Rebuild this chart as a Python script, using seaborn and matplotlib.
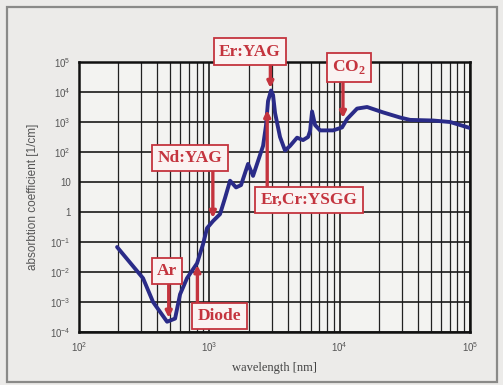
import numpy as np
import pandas as pd
import matplotlib
matplotlib.use('Agg')
import matplotlib.pyplot as plt
import matplotlib.ticker as mticker
from matplotlib.patches import Rectangle
import seaborn as sns

# ---------------------------------------------------------------
# data (wavelength in nm, absorption in 1/cm)
# ---------------------------------------------------------------
wavelength = [196, 310, 370, 474, 546, 596, 674, 805, 895, 960, 1068, 1208, 1320,
              1442, 1603, 1751, 1982, 2165, 2406, 2584, 2724, 2821, 2975, 3083,
              3193, 3487, 3810, 4163, 4710, 5237, 5721, 5928, 6140, 6476, 7072,
              8899, 10430, 11400, 13600, 16230, 21540, 29080, 34700, 52100,
              70360, 100000]
absorption = [0.068, 0.0062, 0.0010, 0.00022, 0.00028, 0.0018, 0.0062, 0.0195,
              0.085, 0.29, 0.50, 0.85, 2.95, 11, 6.6, 7.9, 40, 16, 63, 160, 790,
              5000, 11200, 7900, 2000, 316, 112, 160, 300, 250, 316, 500, 2240,
              790, 525, 525, 660, 1260, 2800, 3160, 2090, 1410, 1175, 1120, 1000,
              630]

# lasers: label, wavelength, arrow base / tip (absorption), label position
laser_names = ['Er:YAG', 'CO$_\\mathbf{2}$', 'Nd:YAG', 'Ar', 'Diode', 'Er,Cr:YSGG']
laser_nm = [2940, 10600, 1064, 488, 810, 2780]
arrow_base = [10**4.9, 10**4.33, 10**1.37, 10**-2.43, 10**-3.0, 10**0.83]
arrow_tip = [10**4.13, 10**3.13, 10**-0.2, 10**-3.53, 10**-1.77, 10**3.4]
label_x = [2051, 11800, 711, 473, 1197, 5820]
label_y = [10**5.35, 10**4.82, 10**1.8, 10**-1.97, 10**-3.47, 10**0.4]

y_ticks = [1e-4, 1e-3, 1e-2, 1e-1, 1, 10, 1e2, 1e3, 1e4, 1e5]
y_tick_labels = ['10$^{-4}$', '10$^{-3}$', '10$^{-2}$', '10$^{-1}$', '1', '10',
                 '10$^{2}$', '10$^{3}$', '10$^{4}$', '10$^{5}$']
x_ticks = [1e2, 1e3, 1e4, 1e5]
x_tick_labels = ['10$^{2}$', '10$^{3}$', '10$^{4}$', '10$^{5}$']

df = pd.DataFrame({'wavelength': wavelength, 'absorption': absorption})

# ---------------------------------------------------------------
# style
# ---------------------------------------------------------------
sns.set_style('white')
plt.rcParams['font.family'] = ['Liberation Sans', 'DejaVu Sans']
plt.rcParams['mathtext.fontset'] = 'custom'
plt.rcParams['mathtext.rm'] = 'Liberation Sans'
plt.rcParams['mathtext.bf'] = 'Liberation Serif:bold'

red = '#c4343e'
fig = plt.figure(figsize=(5.03, 3.85), dpi=100, facecolor='#ecebe9')
ax = fig.add_axes([79 / 503, 1 - 332 / 385, 391 / 503, 270 / 385])
ax.set_facecolor('#f3f3f1')

# outer frame of the figure
fig.patches.append(Rectangle((7 / 503, 3 / 385), 490 / 503, 375 / 385,
                             transform=fig.transFigure, fill=False,
                             edgecolor='#8a8a88', linewidth=1.6))

sns.lineplot(data=df, x='wavelength', y='absorption', ax=ax,
             color='#2a2b88', linewidth=2.8, zorder=3)

ax.set_xscale('log')
ax.set_yscale('log')
ax.set_xlim(1e2, 1e5)
ax.set_ylim(1e-4, 1e5)

ax.set_xticks(x_ticks)
ax.set_xticklabels(x_tick_labels)
ax.xaxis.set_minor_locator(mticker.LogLocator(base=10, subs=np.arange(2, 10)))
ax.xaxis.set_minor_formatter(mticker.NullFormatter())
ax.set_yticks(y_ticks)
ax.set_yticklabels(y_tick_labels)
ax.yaxis.set_minor_locator(mticker.NullLocator())

ax.grid(which='major', color='#1a1a1a', linewidth=1.2)
ax.grid(which='minor', axis='x', color='#222222', linewidth=0.9)
ax.tick_params(axis='y', which='major', direction='in', length=5, width=1.8,
               color='#111111', labelsize=7, labelcolor='#555555', pad=6)
ax.tick_params(axis='x', which='major', length=0, labelsize=7,
               labelcolor='#555555', pad=6)
ax.tick_params(axis='x', which='minor', length=0)
for s in ax.spines.values():
    s.set_color('#111111')
    s.set_linewidth(1.8)

ax.set_xlabel('wavelength [nm]', family=['Liberation Serif'], fontsize=9,
              color='#444444', labelpad=6)
ax.set_ylabel('absorbtion coefficient [1/cm]', fontsize=8.5, color='#555555',
              labelpad=8)

# laser labels with arrows
for name, nm, base, tip, tx, ty in zip(laser_names, laser_nm, arrow_base,
                                       arrow_tip, label_x, label_y):
    ax.annotate('', xy=(nm, tip), xytext=(nm, base),
                arrowprops=dict(arrowstyle='-|>', color=red, lw=2.4,
                                mutation_scale=9, shrinkA=0, shrinkB=0),
                annotation_clip=False, zorder=4)
    ax.text(tx, ty, name, family=['Liberation Serif'], fontweight='bold',
            fontsize=12.5, color=red, ha='center', va='center', zorder=5,
            clip_on=False,
            bbox=dict(boxstyle='square,pad=0.3', facecolor='#faf3f2',
                      edgecolor=red, linewidth=1.3))

fig.savefig('out.png', dpi=100, facecolor=fig.get_facecolor())
